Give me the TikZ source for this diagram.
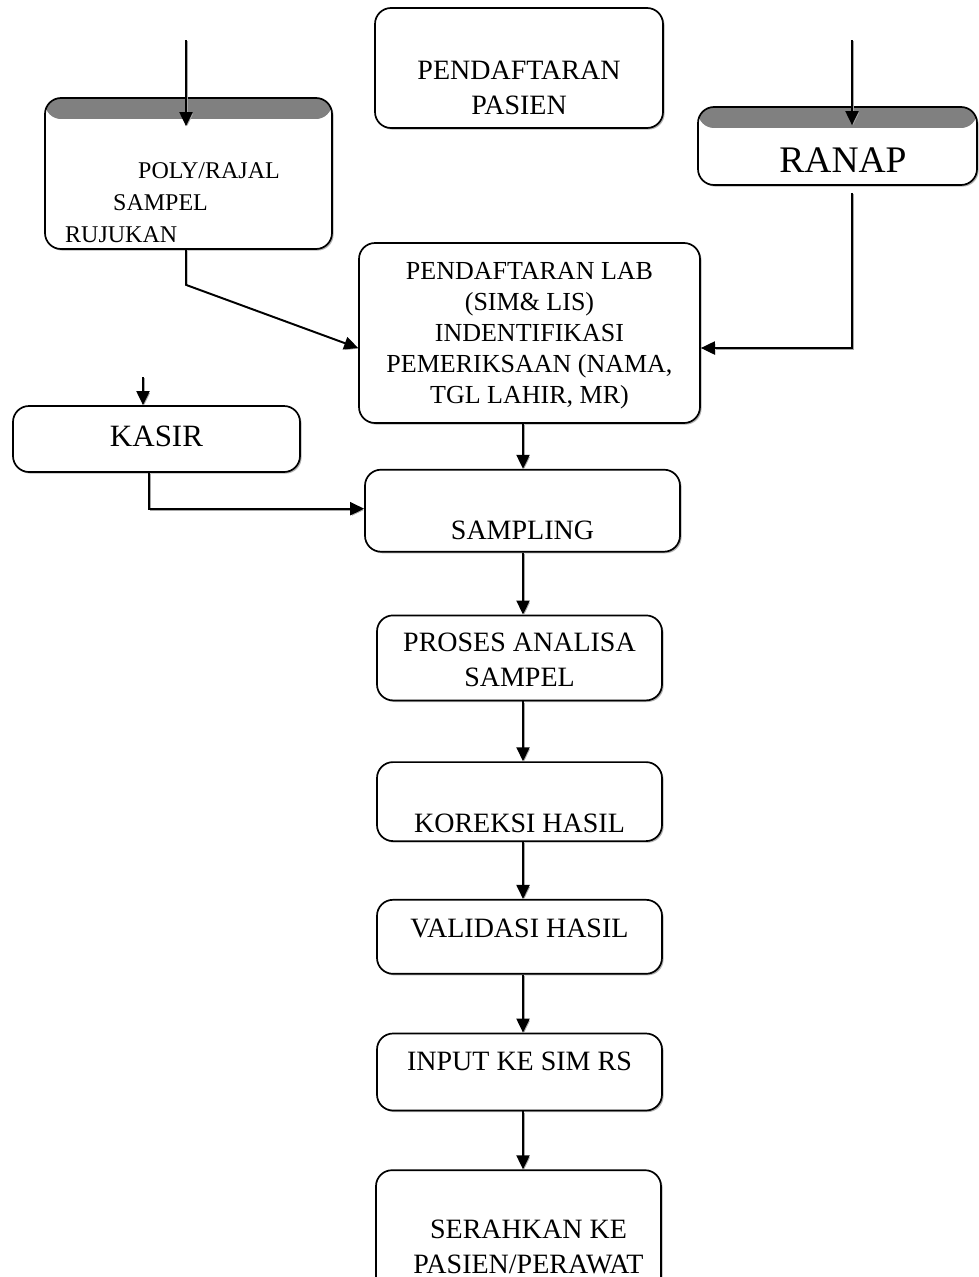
\documentclass[tikz,border=0pt]{standalone}
\usepackage{fontspec}
\setmainfont{Liberation Serif}
\usetikzlibrary{positioning,shadows,arrows.meta}
\newcommand{\boxlines}[1]{\begin{tabular}[t]{@{}c@{}}#1\end{tabular}}

\begin{document}
\begin{tikzpicture}[x=1pt,y=1pt,
    box/.style={draw,line width=1.7pt,rounded corners=16pt,fill=white,inner sep=0pt,
        drop shadow={shadow xshift=1.6pt,shadow yshift=-1.6pt,fill=black!50,opacity=0.6},
        minimum width=285pt,font=\fontsize{28}{35}\selectfont},
    banded/.style={box,path picture={
        \fill[black!50] (path picture bounding box.north west) rectangle ([yshift=-21pt]path picture bounding box.north east);
        \fill[white,rounded corners=14pt] ([yshift=-21pt]path picture bounding box.north west) rectangle (path picture bounding box.south east);}},
    arr/.style={line width=1.9pt,-{Triangle[length=14pt,width=13pt]},
        preaction={draw=black!35,transform canvas={shift={(1.3pt,-1.3pt)}}}}]
    \useasboundingbox (0,0) rectangle (979,-1277);
    \clip (0,0) rectangle (979,-1277);

    \node[box,minimum width=288pt,text height=71pt,text depth=49pt] (pasien) at (519,-68) {\boxlines{PENDAFTARAN\\PASIEN}};
    \node[banded,minimum width=287pt,text height=80pt,text depth=71pt,font=\fontsize{24}{32}\selectfont] (poly) at (188.5,-173.5)
        {\begin{tabular}[t]{@{}l@{\hspace{32pt}}}\hspace*{73pt}POLY/RAJAL\\\hspace*{48pt}SAMPEL\\RUJUKAN\end{tabular}};
    \node[banded,minimum width=279pt,text height=65pt,text depth=13pt,font=\fontsize{37.5}{45}\selectfont] (ranap) at (837.5,-146) {\hspace*{11pt}RANAP};
    \node[box,minimum width=341pt,text height=36pt,text depth=144pt,font=\fontsize{26}{31}\selectfont] (lab) at (529.5,-333)
        {\boxlines{PENDAFTARAN LAB\\(SIM\& LIS)\\INDENTIFIKASI\\PEMERIKSAAN (NAMA,\\TGL LAHIR, MR)}};
    \node[box,minimum width=287pt,text height=40pt,text depth=26pt,font=\fontsize{31}{37}\selectfont] (kasir) at (156.5,-439) {KASIR};

    \node[box,minimum width=315pt,text height=70pt,text depth=12pt,below=45pt of lab,xshift=-7pt] (samp) {SAMPLING};
    \node[box,text height=36pt,text depth=49pt,below=62pt of samp,xshift=-3pt] (proses) {\boxlines{PROSES ANALISA\\SAMPEL}};
    \node[box,text height=70pt,text depth=9pt,below=60pt of proses] (koreksi) {KOREKSI HASIL};
    \node[box,text height=38pt,text depth=36pt,below=57pt of koreksi] (valid) {VALIDASI HASIL};
    \node[box,text height=37pt,text depth=40pt,below=58pt of valid] (input) {INPUT KE SIM RS};
    \node[box,text height=68pt,text depth=72pt,below=58pt of input,xshift=-1pt] (serah)
        {\hspace*{20pt}\boxlines{SERAHKAN KE\\PASIEN/PERAWAT}};

    \coordinate (polyin) at (186,-40);
    \coordinate (ranapin) at (852,-40);
    \coordinate (kasirin) at (143,-377);
    \coordinate (spine) at (523,0);

    \draw[arr] (polyin) -- ([yshift=-29pt]polyin |- poly.north);
    \draw[arr] (ranapin) -- ([yshift=-19pt]ranapin |- ranap.north);
    \draw[arr] (kasirin) -- (kasirin |- kasir.north);
    \draw[arr] (poly.south -| polyin) -- ++(0,-35) -- ([yshift=-15pt]lab.west);
    \draw[arr] ([yshift=-7pt]ranap.south -| ranapin) |- ([yshift=-15pt]lab.east);
    \draw[arr] ([xshift=-7.5pt]kasir.south) |- ([yshift=2pt]samp.west);
    \draw[arr] (lab.south -| spine) -- (samp.north -| spine);
    \foreach \a/\b in {samp/proses,proses/koreksi,koreksi/valid,valid/input,input/serah}
        \draw[arr] (\a.south -| spine) -- (\b.north -| spine);
\end{tikzpicture}
\end{document}
